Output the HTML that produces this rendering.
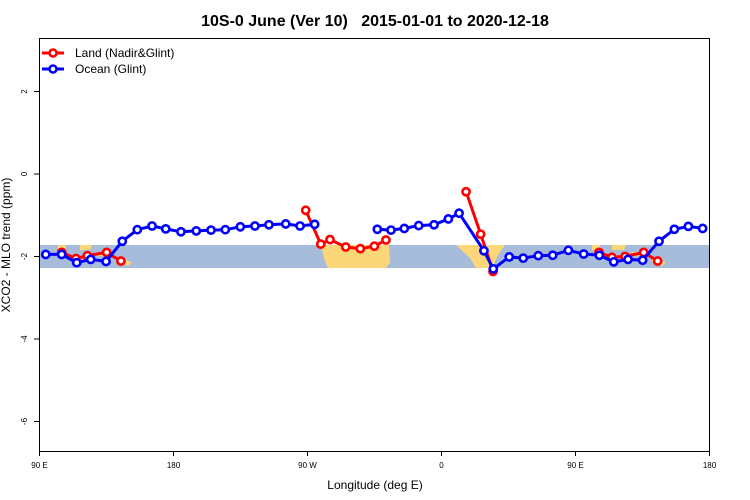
<!DOCTYPE html>
<html><head><meta charset="utf-8"><style>
html,body{margin:0;padding:0;background:#fff;}
svg{display:block;font-family:"Liberation Sans",Arial,sans-serif;}
</style></head><body>
<svg id="chart" width="750" height="500" viewBox="0 0 750 500">
<text x="375" y="26" text-anchor="middle" font-size="16" font-weight="bold" style="white-space:pre">10S-0 June (Ver 10)   2015-01-01 to 2020-12-18</text>
<g id="map">
<rect x="39.5" y="245" width="670" height="23" fill="#a7bcda"/>
<path fill="#fcd77a" d="M321,245 L389,245 L390,262 L386,268 L328,268 L324,258 Z"/>
<path fill="#fcd77a" d="M456,245 L505,245 L498,255 L492,268 L476,268 L470,258 Z"/>
<path fill="#fcd77a" d="M58,245 L66,245 L66,250 L58,250 Z M80,245 L92,245 L90,250 L80,250 Z M98,252 L112,252 L110,256 L98,256 Z M118,258 L132,262 L128,266 L118,262 Z"/>
<path fill="#fcd77a" d="M592,245 L600,245 L600,250 L592,250 Z M612,245 L626,245 L624,250 L612,250 Z M632,252 L646,252 L644,256 L632,256 Z M652,258 L666,262 L662,266 L652,262 Z"/>
</g>
<g id="axes"></g>
<g id="series"></g>
<rect x="39.5" y="38.5" width="670" height="413" fill="none" stroke="#000" stroke-width="1"/>
<text x="375" y="489" text-anchor="middle" font-size="12">Longitude (deg E)</text>
<text transform="translate(10,245) rotate(-90)" text-anchor="middle" font-size="12">XCO2 - MLO trend (ppm)</text>
<g>
<line x1="42" y1="53" x2="64" y2="53" stroke="#f00" stroke-width="3"/>
<circle cx="53" cy="53" r="3.5" fill="#fff" stroke="#f00" stroke-width="2.5"/>
<text x="75" y="57" font-size="12">Land (Nadir&amp;Glint)</text>
<line x1="42" y1="69" x2="64" y2="69" stroke="#00f" stroke-width="3"/>
<circle cx="53" cy="69" r="3.5" fill="#fff" stroke="#00f" stroke-width="2.5"/>
<text x="75" y="73" font-size="12">Ocean (Glint)</text>
</g>
</svg>
<script>
const xTickValues = [90, 180, 270, 360, 450, 540];
const xTickLabels = ["90 E", "180", "90 W", "0", "90 E", "180"];
const yTickValues = [2, 0, -2, -4, -6];
const landLon = [104.9, 114.5, 122.1, 135.1, 144.7, 268.8, 278.9, 285.1, 295.7, 305.5, 314.9, 322.7, 376.5, 386.3, 394.6, 465.8, 474.5, 483.3, 495.8, 505.2];
const landVal = [-1.90, -2.05, -1.98, -1.90, -2.11, -0.88, -1.70, -1.59, -1.77, -1.81, -1.75, -1.60, -0.43, -1.46, -2.36, -1.90, -2.02, -2.00, -1.90, -2.11];
const oceanLon = [94.2, 104.9, 115.0, 124.4, 134.7, 145.6, 155.7, 165.6, 174.8, 185.0, 195.3, 205.2, 214.8, 224.9, 234.7, 244.1, 255.4, 265.0, 274.8, 316.9, 326.1, 335.0, 344.7, 355.0, 364.6, 371.8, 388.5, 394.8, 405.5, 414.9, 425.0, 434.7, 445.2, 455.5, 466.0, 475.7, 485.3, 495.1, 506.1, 516.4, 525.8, 535.4];
const oceanVal = [-1.95, -1.95, -2.15, -2.07, -2.12, -1.63, -1.35, -1.26, -1.33, -1.40, -1.38, -1.36, -1.35, -1.28, -1.26, -1.23, -1.21, -1.26, -1.22, -1.34, -1.36, -1.32, -1.25, -1.23, -1.09, -0.95, -1.86, -2.30, -2.01, -2.04, -1.98, -1.97, -1.85, -1.94, -1.97, -2.13, -2.07, -2.09, -1.63, -1.34, -1.27, -1.32];

const NS = "http://www.w3.org/2000/svg";
function xs(lon){ return 39.5 + (lon - 90) * (670 / 450); }
function ys(v){ return 174 - v * 41.25; }
function mk(tag, attrs, parent){ const e = document.createElementNS(NS, tag); for (const k in attrs) e.setAttribute(k, attrs[k]); parent.appendChild(e); return e; }

const axes = document.getElementById('axes');
xTickValues.forEach((v, i) => {
  const x = xs(v);
  const t = mk('line', {x1: x, y1: 451.5, x2: x, y2: 456, stroke: '#000'}, axes);
  
  
  const l = mk('text', {x: x, y: 468, 'text-anchor': 'middle', 'font-size': '8'}, axes);
  l.textContent = xTickLabels[i];
  
  
});
yTickValues.forEach(v => {
  const y = ys(v);
  const t = mk('line', {x1: 34, y1: y, x2: 39.5, y2: y, stroke: '#000'}, axes);
  
  
  const l = mk('text', {transform: 'translate(27,' + y + ') rotate(-90)', 'text-anchor': 'middle', 'font-size': '8'}, axes);
  l.textContent = String(v);
  
  
});

const series = document.getElementById('series');
function drawSeries(lons, vals, color, name, breakGap){
  const g = mk('g', {}, series);
  
  
  let d = '';
  for (let i = 0; i < lons.length; i++) {
    const move = i === 0 || (lons[i] - lons[i-1]) > breakGap;
    d += (move ? 'M' : 'L') + xs(lons[i]).toFixed(1) + ',' + ys(vals[i]).toFixed(1) + ' ';
  }
  const p = mk('path', {d: d, fill: 'none', stroke: color, 'stroke-width': 3, 'stroke-linejoin': 'round'}, g);
  
  
  for (let i = 0; i < lons.length; i++) {
    const c = mk('circle', {cx: xs(lons[i]), cy: ys(vals[i]), r: 3.6, fill: '#fff', stroke: color, 'stroke-width': 2.6}, g);
    
    
  }
}
drawSeries(landLon, landVal, '#f00', 'land', 30);
drawSeries(oceanLon, oceanVal, '#00f', 'ocean', 30);
</script>
</body></html>
